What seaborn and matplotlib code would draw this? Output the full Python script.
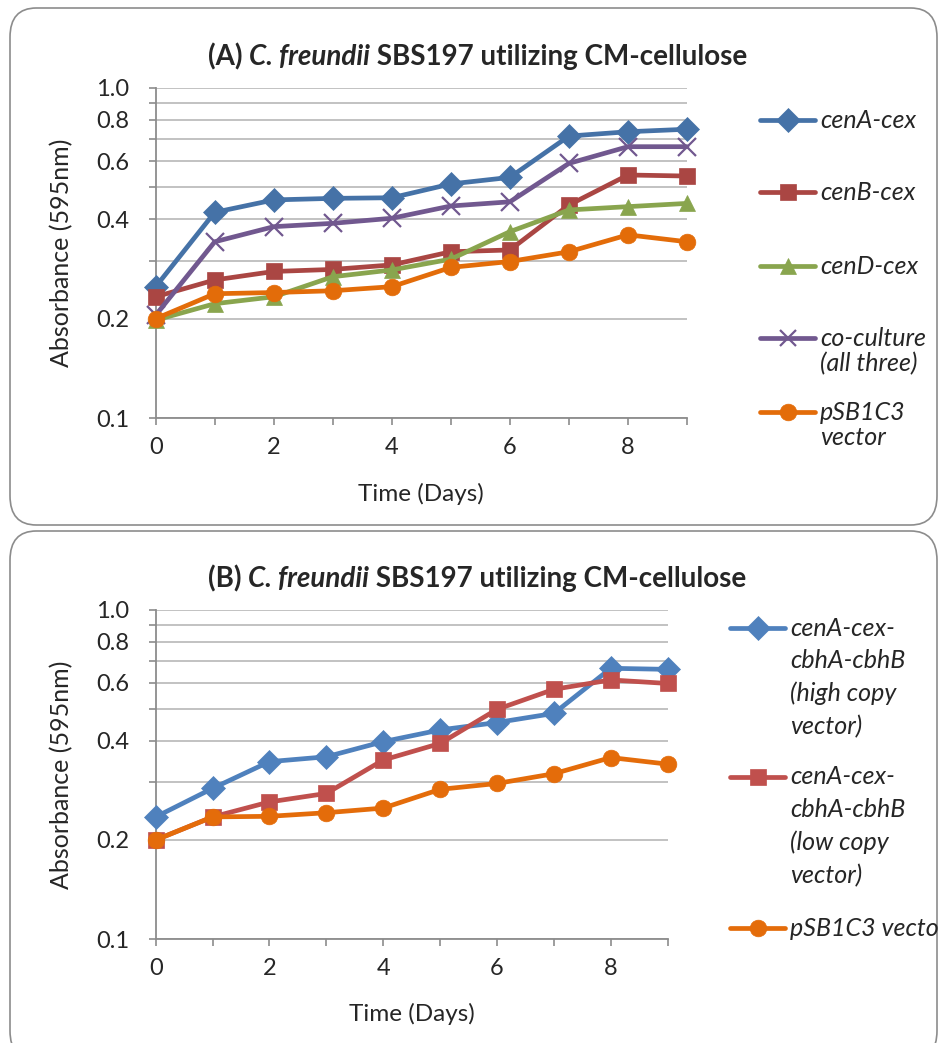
import matplotlib
matplotlib.use("Agg")
import matplotlib.pyplot as plt
import seaborn as sns
import pandas as pd
from matplotlib.patches import FancyBboxPatch
from matplotlib.lines import Line2D

# data
days = [0, 1, 2, 3, 4, 5, 6, 7, 8, 9]

cenA_cex = [0.250, 0.420, 0.458, 0.463, 0.465, 0.512, 0.536, 0.715, 0.737, 0.750]
cenB_cex = [0.233, 0.262, 0.278, 0.282, 0.291, 0.319, 0.323, 0.442, 0.545, 0.541]
cenD_cex = [0.198, 0.222, 0.233, 0.268, 0.281, 0.303, 0.367, 0.427, 0.437, 0.447]
coculture = [0.205, 0.342, 0.380, 0.389, 0.403, 0.439, 0.452, 0.591, 0.664, 0.664]
vector_a = [0.200, 0.238, 0.240, 0.243, 0.250, 0.286, 0.298, 0.319, 0.359, 0.342]

high_copy = [0.235, 0.287, 0.346, 0.358, 0.398, 0.432, 0.455, 0.485, 0.665, 0.660]
low_copy = [0.200, 0.235, 0.261, 0.277, 0.350, 0.393, 0.499, 0.574, 0.613, 0.598]
vector_b = [0.200, 0.235, 0.236, 0.242, 0.250, 0.285, 0.297, 0.318, 0.356, 0.340]

labels_a = ["cenA-cex", "cenB-cex", "cenD-cex", "co-culture\n(all three)", "pSB1C3\nvector"]
labels_b = ["cenA-cex-\ncbhA-cbhB\n(high copy\nvector)", "cenA-cex-\ncbhA-cbhB\n(low copy\nvector)",
            "pSB1C3 vector"]

y_ticks = [0.1, 0.2, 0.3, 0.4, 0.5, 0.6, 0.7, 0.8, 0.9, 1.0]
y_ticklabels = ["0.1", "0.2", "", "0.4", "", "0.6", "", "0.8", "", "1.0"]
x_ticklabels = ["0", "", "2", "", "4", "", "6", "", "8", ""]

# styles
colors_a = ["#4572A7", "#AA4643", "#89A54E", "#71588F", "#E36C09"]
markers_a = ["D", "s", "^", "x", "o"]
colors_b = ["#4F81BD", "#C0504D", "#E46C0A"]
markers_b = ["D", "s", "o"]

sns.set_style("white")
plt.rcParams["font.family"] = ["Lato", "DejaVu Sans"]

W, H = 939, 1043
fig = plt.figure(figsize=(W / 100, H / 100), dpi=100)


def fx(x):
    return x / W


def fy(y):
    return 1 - y / H


# rounded panel frames, behind everything
for top, bottom in [(8, 525), (531, 1060)]:
    fig.patches.append(FancyBboxPatch((fx(10), fy(bottom)), fx(937) - fx(10), fy(top) - fy(bottom),
                                      boxstyle="round,pad=0,rounding_size=0.028",
                                      transform=fig.transFigure, facecolor="white",
                                      edgecolor="#8C8C8C", linewidth=1.2, zorder=-5))


def draw_panel(ax, series, labels, colors, markers, xlab_y, ylab_x):
    rows = []
    for lab, vals in zip(labels, series):
        for d, v in zip(days, vals):
            rows.append({"day": d, "abs": v, "series": lab})
    df = pd.DataFrame(rows)
    for lab, col, mk in zip(labels, colors, markers):
        sub = df[df["series"] == lab]
        sns.lineplot(data=sub, x="day", y="abs", ax=ax, color=col, marker=mk,
                     markersize=12 if mk != "x" else 13,
                     markeredgecolor=col, markeredgewidth=1.6 if mk == "x" else 0.5,
                     linewidth=3.4, legend=False, clip_on=False, zorder=3)
    ax.patch.set_alpha(0)
    ax.set_yscale("log")
    ax.set_ylim(0.1, 1.0)
    ax.set_xlim(0, 9)
    ax.yaxis.set_major_locator(matplotlib.ticker.FixedLocator(y_ticks))
    ax.yaxis.set_major_formatter(matplotlib.ticker.FixedFormatter(y_ticklabels))
    ax.yaxis.set_minor_locator(matplotlib.ticker.NullLocator())
    ax.set_xticks(days)
    ax.set_xticklabels(x_ticklabels)
    ax.grid(axis="y", color="#BDBDBD", linewidth=1.3)
    ax.grid(axis="x", visible=False)
    ax.tick_params(axis="both", which="major", direction="out", length=5, width=1.2,
                   color="#8C8C8C", labelsize=17, left=True, bottom=True)
    ax.tick_params(axis="y", pad=14)
    ax.tick_params(axis="x", pad=9)
    for s in ["top", "right"]:
        ax.spines[s].set_visible(False)
    for s in ["left", "bottom"]:
        ax.spines[s].set_color("#8C8C8C")
        ax.spines[s].set_linewidth(1.3)
    ax.set_xlabel("Time (Days)", fontsize=17.5)
    ax.set_ylabel("Absorbance (595nm)", fontsize=18)
    ax.xaxis.set_label_coords(0.5, xlab_y)
    ax.yaxis.set_label_coords(ylab_x, 0.5)


def draw_title(ax, letter, y):
    t1 = fig.text(fx(208), fy(y), f"({letter}) ", fontsize=20, fontweight="bold", va="bottom")
    t2 = ax.annotate("C. freundii", xy=(1, 0), xycoords=t1, fontsize=20,
                     fontweight="bold", style="italic", va="bottom", annotation_clip=False)
    ax.annotate(" SBS197 utilizing CM-cellulose", xy=(1, 0), xycoords=t2,
                fontsize=20, fontweight="bold", va="bottom", annotation_clip=False)


def draw_legend(ys, labels, colors, markers, x0, x1, xt, spacing):
    for y, lab, col, mk in zip(ys, labels, colors, markers):
        fig.add_artist(Line2D([fx(x0), fx(x1)], [fy(y), fy(y)], color=col, linewidth=3.4,
                              solid_capstyle="round", transform=fig.transFigure))
        fig.add_artist(Line2D([fx((x0 + x1) / 2)], [fy(y)], color=col, marker=mk, markersize=12,
                              markeredgecolor=col, markeredgewidth=1.6 if mk == "x" else 0.5,
                              transform=fig.transFigure))
        fig.text(fx(xt), fy(y - 11.5), lab, fontsize=18, style="italic", va="top", ha="left",
                 linespacing=spacing)


ax_a = fig.add_axes([fx(155.7), fy(418), fx(687) - fx(155.7), fy(88) - fy(418)])
draw_panel(ax_a, [cenA_cex, cenB_cex, cenD_cex, coculture, vector_a], labels_a, colors_a, markers_a,
           -0.197, -0.156)

ax_b = fig.add_axes([fx(155.7), fy(939), fx(667.7) - fx(155.7), fy(610) - fy(939)])
draw_panel(ax_b, [high_copy, low_copy, vector_b], labels_b, colors_b, markers_b, -0.195, -0.1615)

draw_title(ax_a, "A", 70)
draw_title(ax_b, "B", 592)

draw_legend([120, 192, 266, 338, 412], labels_a, colors_a, markers_a, 760, 815, 820, 1.12)
draw_legend([628, 777, 928], labels_b, colors_b, markers_b, 730, 785, 790, 1.5)

fig.savefig("out.png", dpi=100)
